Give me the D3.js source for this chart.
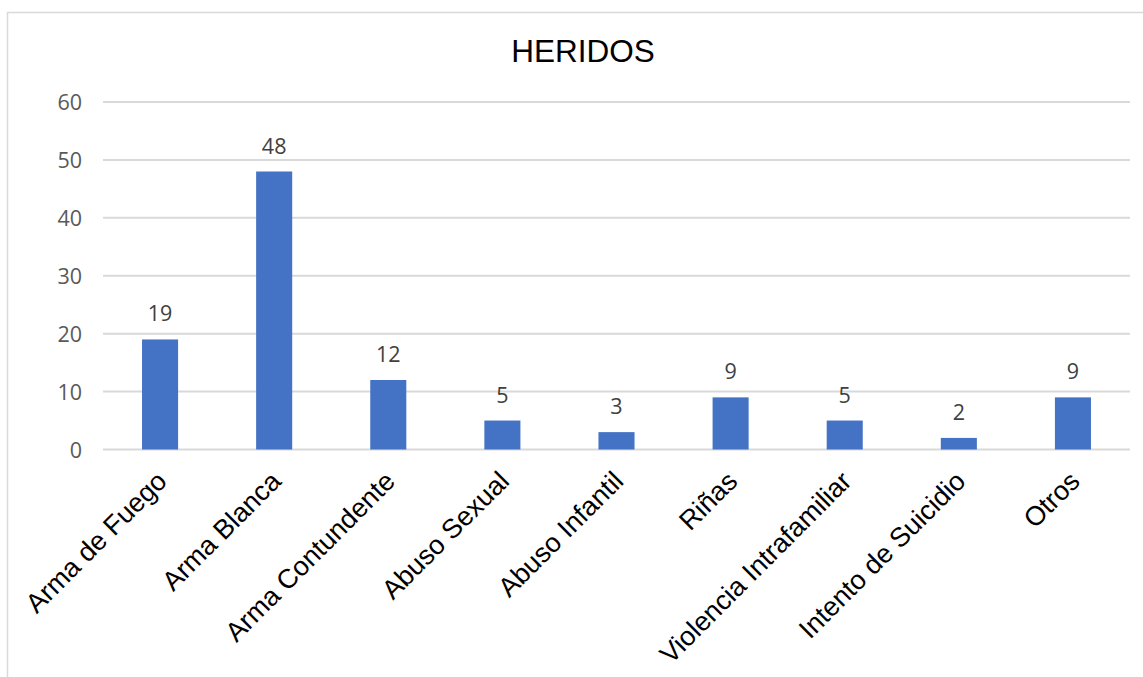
<!DOCTYPE html>
<html>
<head>
<meta charset="utf-8">
<script src="https://cdn.jsdelivr.net/npm/d3@7"></script>
<style>
  html, body { margin: 0; padding: 0; background: #fff; }
  svg { display: block; }
</style>
</head>
<body>
<svg id="chart" width="1143" height="677"></svg>
<script>
const title = "HERIDOS";
const categories = ["Arma de Fuego", "Arma Blanca", "Arma Contundente", "Abuso Sexual", "Abuso Infantil", "Riñas", "Violencia Intrafamiliar", "Intento de Suicidio", "Otros"];
const values = [19, 48, 12, 5, 3, 9, 5, 2, 9];
const yTicks = [0, 10, 20, 30, 40, 50, 60];

const svg = d3.select("#chart");
const W = 1143, H = 677;

// chart area border
svg.append("rect")
  .attr("x", 7.5).attr("y", 12.5)
  .attr("width", W + 10).attr("height", H + 10)
  .attr("fill", "#fff").attr("stroke", "#d9d9d9").attr("stroke-width", 1.5);

const plot = { left: 103, right: 1130, top: 102, bottom: 449.5 };

const x = d3.scaleBand().domain(categories).range([plot.left, plot.right]).paddingInner(0.684).paddingOuter(0.342);
const y = d3.scaleLinear().domain([0, 60]).range([plot.bottom, plot.top]);

// gridlines
svg.append("g").selectAll("line").data(yTicks).join("line")
  .attr("x1", plot.left).attr("x2", plot.right)
  .attr("y1", d => y(d)).attr("y2", d => y(d))
  .attr("stroke", "#d9d9d9").attr("stroke-width", 2);

// y axis labels
const yAxis = d3.axisLeft(y).tickValues(yTicks).tickSize(0).tickPadding(0);
const yg = svg.append("g").attr("transform", `translate(${82},0)`).call(yAxis);
yg.select(".domain").remove();
yg.selectAll("text")
  .attr("font-family", "'Open Sans', sans-serif")
  .attr("font-size", 21.5)
  .attr("fill", "#595959")
  .attr("dy", "0.36em");

// bars
svg.append("g").selectAll("rect").data(values).join("rect")
  .attr("x", (d, i) => x(categories[i]))
  .attr("y", d => y(d))
  .attr("width", x.bandwidth())
  .attr("height", d => y(0) - y(d))
  .attr("fill", "#4472c4");

// data labels
svg.append("g").selectAll("text").data(values).join("text")
  .attr("x", (d, i) => x(categories[i]) + x.bandwidth() / 2)
  .attr("y", d => y(d) - 18)
  .attr("text-anchor", "middle")
  .attr("font-family", "'Open Sans', sans-serif")
  .attr("font-size", 21.5)
  .attr("fill", "#404040")
  .text(d => d);

// x axis labels
const xAxis = d3.axisBottom(x).tickSize(0).tickPadding(0);
const xg = svg.append("g").attr("transform", `translate(0,${plot.bottom})`).call(xAxis);
xg.select(".domain").remove();
xg.selectAll("text")
  .attr("font-family", "'Liberation Sans', Arial, sans-serif")
  .attr("font-size", 27)
  .attr("fill", "#000")
  .attr("text-anchor", "end")
  .attr("dy", "0.7em")
  .attr("y", 0)
  .attr("transform", "translate(-5,20) rotate(-45)");

// title
svg.append("text")
  .attr("x", 583).attr("y", 62)
  .attr("text-anchor", "middle")
  .attr("font-family", "'Liberation Sans', Arial, sans-serif")
  .attr("font-size", 31.5)
  .attr("fill", "#000")
  .text(title);
</script>
</body>
</html>
